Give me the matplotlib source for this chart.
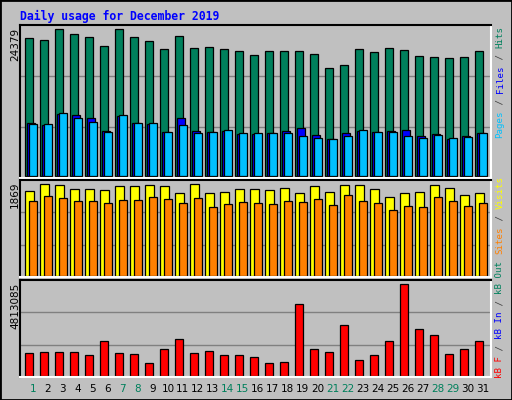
import matplotlib
matplotlib.use("Agg")
import matplotlib.pyplot as plt
from matplotlib.patches import Rectangle

days = list(range(1, 32))
weekend_days = [1, 7, 8, 14, 15, 21, 22, 28, 29]
hits = [22885, 22550, 24379, 23550, 23050, 21560, 24300, 23050, 22390, 21060, 23220,
        21230, 21390, 21060, 20730, 20070, 20730, 20730, 20730, 20230, 17910, 18410,
        21060, 20560, 21230, 20900, 19900, 19740, 19570, 19740, 20730]
files = [8790, 8460, 10280, 10110, 9620, 7460, 9950, 8790, 8620, 7300, 9620, 7460,
         7300, 7460, 6960, 6960, 7130, 7460, 7960, 6800, 6130, 7130, 7460, 7300, 7460,
         7630, 6630, 6960, 6130, 6630, 7130]
pages = [8620, 8620, 10450, 9620, 8950, 7300, 10110, 8790, 8790, 7300, 8460, 7130,
         7300, 7630, 7130, 7130, 7130, 7130, 6630, 6300, 6130, 6630, 7630, 7300, 7300,
         6630, 6300, 6800, 6300, 6470, 7130]
visits = [1726, 1868, 1848, 1766, 1766, 1746, 1827, 1827, 1848, 1827, 1685, 1868,
          1685, 1705, 1766, 1766, 1746, 1787, 1685, 1827, 1705, 1848, 1848, 1766,
          1603, 1685, 1705, 1848, 1787, 1644, 1685]
sites = [1522, 1624, 1583, 1522, 1522, 1481, 1542, 1542, 1603, 1563, 1481, 1583,
         1399, 1461, 1501, 1481, 1461, 1522, 1501, 1563, 1440, 1644, 1522, 1481,
         1338, 1420, 1399, 1603, 1522, 1420, 1481]
kbytes = [1203000, 1256000, 1256000, 1256000, 1099000, 1831000, 1203000, 1151000,
          680000, 1413000, 1936000, 1203000, 1308000, 1099000, 1099000, 994000,
          680000, 732000, 3767000, 1413000, 1256000, 2668000, 837000, 1099000,
          1831000, 4813085, 2459000, 2145000, 1151000, 1413000, 1831000]

BG = "#C0C0C0"
C_HITS, C_FILES, C_PAGES = "#00805C", "#0000FF", "#00C0FF"
C_VIS, C_SITES, C_KB = "#FFFF00", "#FF8000", "#FF0000"
MONO = "DejaVu Sans Mono"

W, H = 512, 400
fig = plt.figure(figsize=(W / 100, H / 100), dpi=100, facecolor=BG)

def add_ax(x0, y0, x1, y1):
    ax = fig.add_axes([x0 / W, 1 - y1 / H, (x1 - x0) / W, (y1 - y0) / H])
    ax.set_facecolor(BG)
    ax.set_xticks([]); ax.set_yticks([])
    for s in ["left", "top"]:
        ax.spines[s].set_color("black")
    for s in ["right", "bottom"]:
        ax.spines[s].set_color("white")
    for s in ax.spines.values():
        s.set_linewidth(1.5)
    for f in (1 / 3, 2 / 3):
        ax.plot([0, 1], [f, f], color="#808080", lw=1, transform=ax.transAxes, zorder=0)
    ax.set_xlim(-0.33, 31.07)
    return ax

px = 1 / 15.0  # one pixel in day units
x = [d - 1 for d in days]
bw = 8 * px
kw = dict(align="edge", edgecolor="black", linewidth=0.9, zorder=2)

ax1 = add_ax(20, 25, 491, 178)
k = 24379 / 147
ax1.set_ylim(-2 * k, 24379 + 4 * k)
ax1.bar(x, hits, bw, color=C_HITS, **kw)
ax1.bar([v + 2 * px for v in x], files, bw, color=C_FILES, **kw)
ax1.bar([v + 4 * px for v in x], pages, bw, color=C_PAGES, **kw)

ax2 = add_ax(20, 180, 491, 277)
k = 1869 / 91.7
ax2.set_ylim(-1 * k, 1869 + 4.3 * k)
ax2.bar(x, visits, 9 * px, color=C_VIS, **kw)
ax2.bar([v + 4 * px for v in x], sites, 8 * px, color=C_SITES, **kw)

ax3 = add_ax(20, 280, 491, 377)
k = 4813085 / 92
ax3.set_ylim(-1 * k, 4813085 + 4 * k)
ax3.bar(x, kbytes, bw, color=C_KB, **kw)

for d in days:
    ax3.text(d - 1 + 0.53, -0.07, str(d), transform=ax3.get_xaxis_transform(),
             ha="center", va="top", fontsize=7.5, family="DejaVu Sans",
             color=C_HITS if d in weekend_days else "black")

def ftext(xp, yp, s, **kw2):
    fig.text(xp / W, 1 - yp / H, s, **kw2)

ftext(20, 16, "Daily usage for December 2019", color="#0000FF", fontsize=8.3,
      weight="bold", family=MONO, va="center")
for lbl, ytop in [("24379", 28), ("1869", 181), ("4813085", 283)]:
    ftext(15, ytop, lbl, rotation=90, ha="center", va="top", fontsize=7.5,
          family="DejaVu Sans")

def vstack(xp, ybot, parts, cw=5.6):
    y = ybot
    for s, c in parts:
        ftext(xp, y, s, rotation=90, ha="center", va="bottom", color=c,
              fontsize=6.6, family=MONO)
        y -= len(s) * cw

vstack(500, 138, [("Pages", C_PAGES), (" / ", "#404040"), ("Files", C_FILES),
                  (" / ", "#404040"), ("Hits", C_HITS)])
vstack(500, 254, [("Sites", C_SITES), (" / ", "#404040"), ("Visits", C_VIS)])
vstack(500, 378, [("kB F", C_KB), (" / ", "#404040"), ("kB In", C_FILES),
                  (" / ", "#404040"), ("kB Out", C_HITS)])

fig.patches.append(Rectangle((0, 0), 1, 1, transform=fig.transFigure, fill=False,
                             edgecolor="black", linewidth=2))
fig.savefig("out.png", dpi=100, facecolor=BG)
